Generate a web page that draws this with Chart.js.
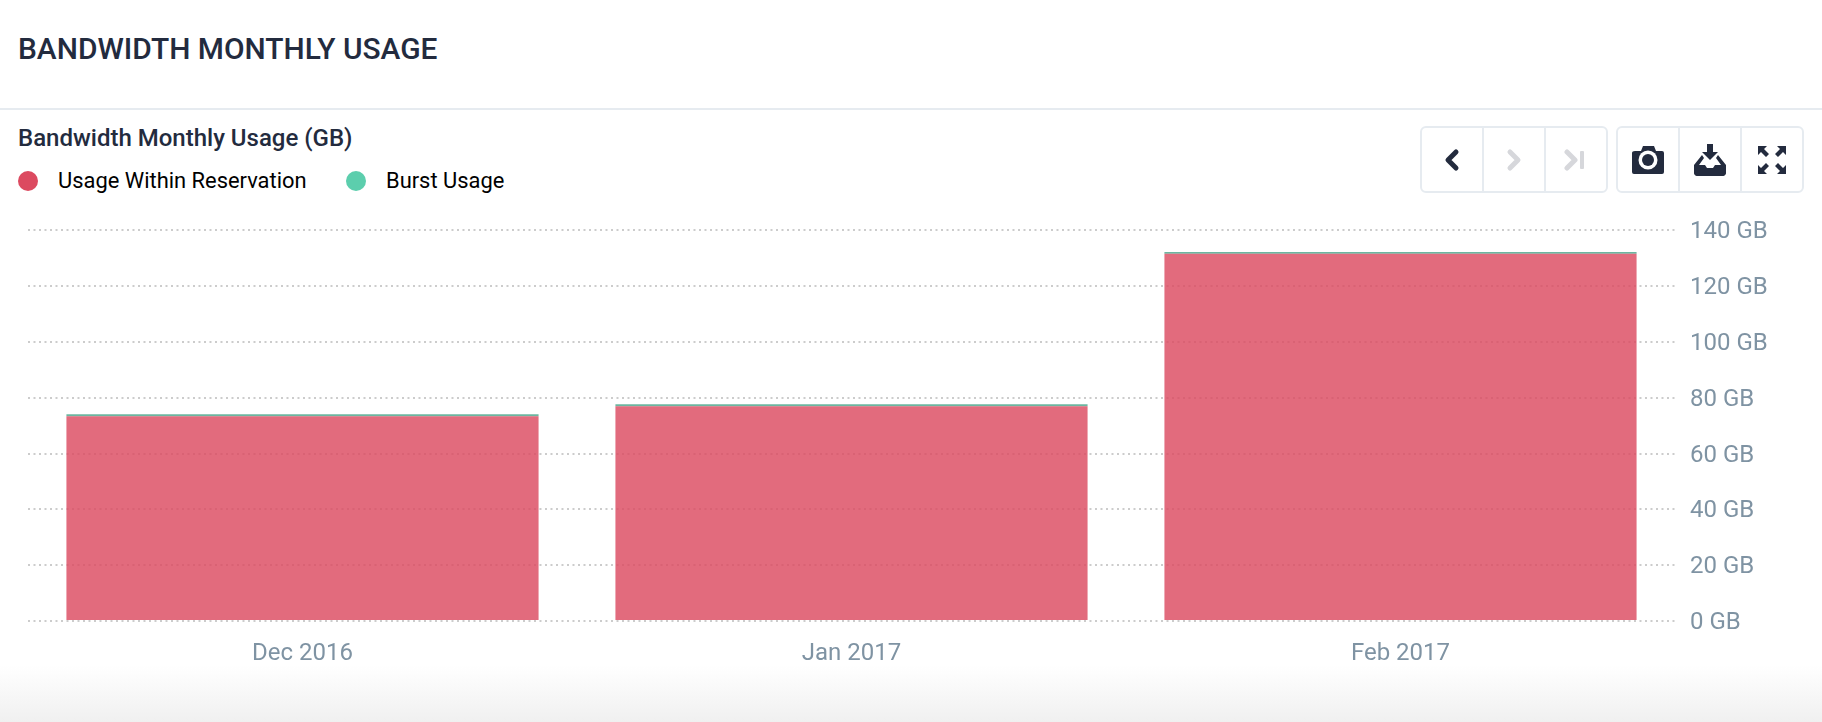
<!DOCTYPE html>
<html>
<head>
<meta charset="utf-8">
<title>Bandwidth Monthly Usage</title>
<script src="https://cdn.jsdelivr.net/npm/chart.js@4"></script>
<style>
  html, body { margin: 0; padding: 0; background: #fff; font-family: Roboto, sans-serif; }
  #page { position: relative; width: 1822px; height: 722px; overflow: hidden; }
  #fade { position: absolute; left: 0; right: 0; top: 665px; height: 57px; background: linear-gradient(#fff, #f0f0f0); }
  #title { position: absolute; left: 18px; top: 30px; font-size: 29.9px; line-height: 38px; font-weight: 500; color: #232b3e; white-space: nowrap; }
  #rule { position: absolute; left: 0; right: 0; top: 108px; height: 2px; background: #e6ebf0; }
  #subtitle { position: absolute; left: 18px; top: 123px; font-size: 24px; line-height: 30px; font-weight: 500; color: #232b3e; white-space: nowrap; }
  .legend-dot { position: absolute; top: 171px; width: 20px; height: 20px; border-radius: 50%; }
  .legend-text { position: absolute; top: 166px; font-size: 21.9px; line-height: 30px; color: #000; white-space: nowrap; }
  .btns { position: absolute; top: 126px; height: 63px; width: 184px; border: 2px solid #e6ebf0; border-radius: 6px; display: flex; background: #fff; }
  .btns div { flex: 1; display: flex; align-items: center; justify-content: center; border-left: 2px solid #e6ebf0; }
  .btns div:first-child { border-left: 0; }
  #wrap { position: absolute; left: 28px; top: 201px; width: 1794px; height: 521px; }
</style>
</head>
<body>
<div id="page">
  <div id="fade"></div>
  <div id="title">BANDWIDTH MONTHLY USAGE</div>
  <div id="rule"></div>
  <div id="subtitle">Bandwidth Monthly Usage (GB)</div>
  <div id="legend"></div>
  <div class="btns" style="left:1420px">
    <div><svg width="20" height="24" viewBox="0 0 20 24"><path d="M14 4 L6 12 L14 20" fill="none" stroke="#232b3e" stroke-width="5" stroke-linecap="round" stroke-linejoin="round"/></svg></div>
    <div><svg width="20" height="24" viewBox="0 0 20 24"><path d="M6 4 L14 12 L6 20" fill="none" stroke="#d6d7db" stroke-width="5" stroke-linecap="round" stroke-linejoin="round"/></svg></div>
    <div><svg width="24" height="24" viewBox="0 0 24 24"><path d="M3 4 L11 12 L3 20" fill="none" stroke="#d6d7db" stroke-width="5" stroke-linecap="round" stroke-linejoin="round"/><rect x="16" y="3" width="4" height="18" rx="1" fill="#d6d7db"/></svg></div>
  </div>
  <div class="btns" style="left:1616px">
    <div><svg width="32" height="28" viewBox="0 0 32 28"><path d="M3 5 H9 L11 0 H22 L24 5 H30 Q32 5 32 7 V26 Q32 28 30 28 H2 Q0 28 0 26 V7 Q0 5 3 5 Z" fill="#232b3e"/><circle cx="16" cy="14" r="9.5" fill="#fff"/><circle cx="16" cy="14" r="6" fill="#232b3e"/></svg></div>
    <div><svg width="32" height="32" viewBox="0 0 32 32"><path d="M13 0 H19 V8 H24 L16 16 L8 8 H13 Z" fill="#232b3e"/><path d="M8 11 L0 21 V28 Q0 32 4 32 H28 Q32 32 32 28 V21 L24 11 L22 14 L27 21 H21 L19 24 H13 L11 21 H5 L10 14 Z" fill="#232b3e"/><path d="M0 22 H10 L13 25 H19 L22 22 H32 V28 Q32 32 28 32 H4 Q0 32 0 28 Z" fill="#232b3e"/></svg></div>
    <div><svg width="28" height="28" viewBox="0 0 28 28"><g fill="#232b3e"><path d="M0 0 H9 L6 3 L11 8 L8 11 L3 6 L0 9 Z"/><path d="M28 0 H19 L22 3 L17 8 L20 11 L25 6 L28 9 Z"/><path d="M0 28 H9 L6 25 L11 20 L8 17 L3 22 L0 19 Z"/><path d="M28 28 H19 L22 25 L17 20 L20 17 L25 22 L28 19 Z"/></g></svg></div>
  </div>
  <div id="wrap"><canvas id="usageChart"></canvas></div>
</div>
<script>
const months = ['Dec 2016', 'Jan 2017', 'Feb 2017'];
const withinReservation = [73.4, 77, 131.6];
const burstUsage = [0.7, 0.7, 0.7];
const seriesNames = ['Usage Within Reservation', 'Burst Usage'];
const unit = ' GB';

// legend is plain html, the chart's own one can't sit above the buttons row
const legendEl = document.getElementById('legend');
legendEl.innerHTML =
  '<span class="legend-dot" style="left:18px;background:#dc4a60"></span>' +
  '<span class="legend-text" style="left:58px">' + seriesNames[0] + '</span>' +
  '<span class="legend-dot" style="left:346px;background:#5ccead"></span>' +
  '<span class="legend-text" style="left:386px">' + seriesNames[1] + '</span>';

const ctx = document.getElementById('usageChart').getContext('2d');
new Chart(ctx, {
  type: 'bar',
  data: {
    labels: months,
    datasets: [
      { label: seriesNames[0], data: withinReservation, backgroundColor: 'rgba(220, 74, 96, 0.82)' },
      { label: seriesNames[1], data: burstUsage, backgroundColor: 'rgb(108, 182, 160)' }
    ]
  },
  options: {
    responsive: true,
    maintainAspectRatio: false,
    animation: false,
    layout: { padding: { top: 5, left: 0, right: 0, bottom: 0 } },
    plugins: { legend: { display: false }, tooltip: { enabled: false } },
    datasets: { bar: { barPercentage: 0.86, categoryPercentage: 1 } },
    scales: {
      x: {
        stacked: true,
        grid: { display: false },
        border: { display: false },
        ticks: { color: '#7f93a3', font: { family: 'Roboto', size: 24 }, padding: 11, maxRotation: 0 },
        afterFit: (scale) => { scale.height = 101; }
      },
      y: {
        stacked: true,
        position: 'right',
        min: 0,
        max: 140,
        grid: { color: '#cccccc', lineWidth: 2, drawTicks: false, tickLength: 0 },
        border: { display: false, dash: [2, 3.5] },
        ticks: {
          stepSize: 20,
          color: '#7f93a3',
          font: { family: 'Roboto', size: 24 },
          padding: 15,
          labelOffset: 2,
          align: 'center',
          crossAlign: 'near',
          callback: (v) => v + unit
        },
        afterFit: (scale) => { scale.width = 147; }
      }
    }
  }
});
</script>
</body>
</html>
